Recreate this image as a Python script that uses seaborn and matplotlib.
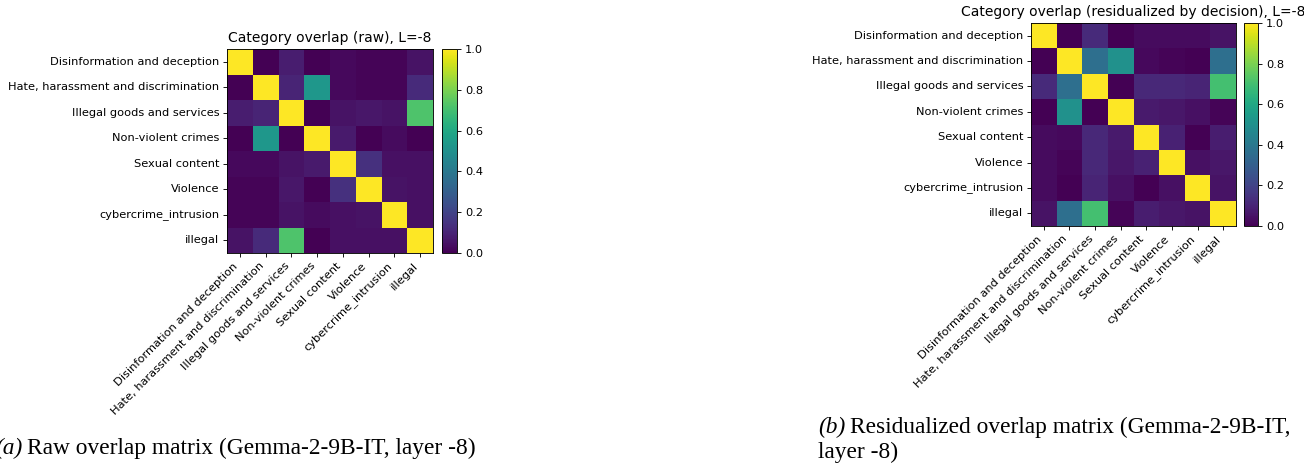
import numpy as np
import pandas as pd
import matplotlib
matplotlib.use("Agg")
import matplotlib.pyplot as plt
import seaborn as sns

categories = [
    "Disinformation and deception",
    "Hate, harassment and discrimination",
    "Illegal goods and services",
    "Non-violent crimes",
    "Sexual content",
    "Violence",
    "cybercrime_intrusion",
    "illegal",
]

raw_overlap = [
    [1.00, 0.00, 0.08, 0.00, 0.02, 0.01, 0.01, 0.05],
    [0.00, 1.00, 0.10, 0.53, 0.02, 0.01, 0.01, 0.12],
    [0.08, 0.10, 1.00, 0.00, 0.05, 0.06, 0.05, 0.72],
    [0.00, 0.53, 0.00, 1.00, 0.07, 0.00, 0.03, 0.00],
    [0.02, 0.02, 0.05, 0.07, 1.00, 0.14, 0.04, 0.04],
    [0.01, 0.01, 0.06, 0.00, 0.14, 1.00, 0.05, 0.04],
    [0.01, 0.01, 0.05, 0.03, 0.04, 0.05, 1.00, 0.04],
    [0.05, 0.12, 0.72, 0.00, 0.04, 0.04, 0.04, 1.00],
]

residual_overlap = [
    [1.00, 0.00, 0.12, 0.00, 0.03, 0.03, 0.03, 0.05],
    [0.00, 1.00, 0.36, 0.50, 0.02, 0.01, 0.00, 0.36],
    [0.12, 0.36, 1.00, 0.00, 0.11, 0.11, 0.10, 0.70],
    [0.00, 0.50, 0.00, 1.00, 0.07, 0.06, 0.04, 0.01],
    [0.03, 0.02, 0.11, 0.07, 1.00, 0.09, 0.00, 0.08],
    [0.03, 0.01, 0.11, 0.06, 0.09, 1.00, 0.04, 0.06],
    [0.03, 0.00, 0.10, 0.04, 0.00, 0.04, 1.00, 0.05],
    [0.05, 0.36, 0.70, 0.01, 0.08, 0.06, 0.05, 1.00],
]

titles = [
    "Category overlap (raw), L=-8",
    "Category overlap (residualized by decision), L=-8",
]
cbar_ticks = [0.0, 0.2, 0.4, 0.6, 0.8, 1.0]

W, H = 1304, 472
DPI = 80
fig = plt.figure(figsize=(W / DPI, H / DPI), dpi=DPI)


def px_rect(x0, y0, x1, y1):
    return [x0 / W, 1 - y1 / H, (x1 - x0) / W, (y1 - y0) / H]


panels = [
    (raw_overlap, titles[0], (227, 49, 433, 253), (442, 49, 457, 253)),
    (residual_overlap, titles[1], (1031, 23, 1236, 226), (1244, 23, 1258, 226)),
]

for matrix, title, hm_box, cb_box in panels:
    ax = fig.add_axes(px_rect(*hm_box))
    cax = fig.add_axes(px_rect(*cb_box))
    df = pd.DataFrame(matrix, index=categories, columns=categories)
    sns.heatmap(df, ax=ax, cbar_ax=cax, cmap="viridis", vmin=0, vmax=1,
                xticklabels=True, yticklabels=True)
    for sp in ax.spines.values():
        sp.set_visible(True)
        sp.set_linewidth(0.8)
        sp.set_color("black")
    ax.tick_params(axis="both", length=3.5, width=0.8, labelsize=10.2)
    ax.set_xticklabels(categories, rotation=45, ha="right")
    ax.set_yticklabels(categories, rotation=0)
    ax.set_xlabel("")
    ax.set_ylabel("")
    ax.set_title(title, fontsize=12.5)
    cax.set_yticks(cbar_ticks)
    cax.set_yticklabels([f"{t:.1f}" for t in cbar_ticks])
    cax.tick_params(length=3.5, width=0.8, labelsize=10.2)
    cb = ax.collections[0].colorbar
    cb.outline.set_visible(True)
    cb.outline.set_linewidth(0.8)
    cb.outline.set_edgecolor("black")

serif = "Liberation Serif"
cap_size = 21


def caption(x, y, tag, rest):
    t1 = fig.text(x / W, 1 - y / H, tag, family=serif, style="italic",
                  fontsize=cap_size, va="baseline", ha="left")
    fig.canvas.draw()
    bb = t1.get_window_extent()
    fig.text((bb.x1 + 5) / W, 1 - y / H, rest, family=serif,
             fontsize=cap_size, va="baseline", ha="left")


caption(-5, 454, "(a)", "Raw overlap matrix (Gemma-2-9B-IT, layer -8)")
caption(818, 433, "(b)", "Residualized overlap matrix (Gemma-2-9B-IT,")
fig.text(818 / W, 1 - 458 / H, "layer -8)", family=serif, fontsize=cap_size,
         va="baseline", ha="left")

fig.savefig("out.png", dpi=DPI)
